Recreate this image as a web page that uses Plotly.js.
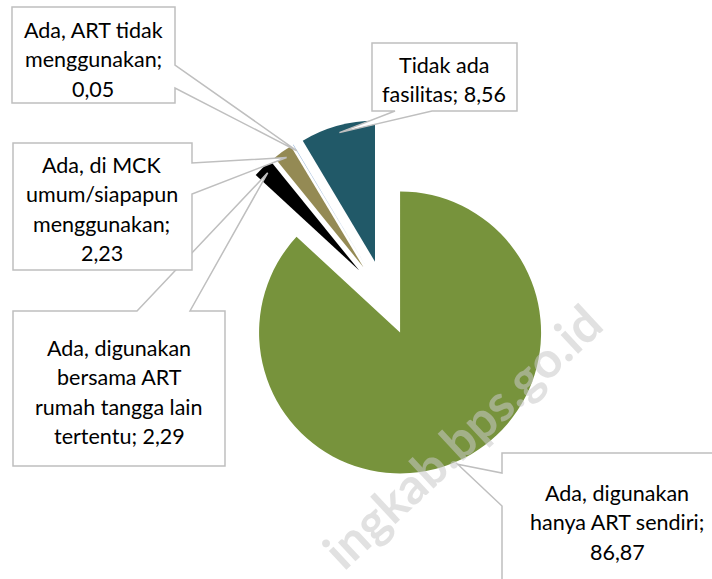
<!DOCTYPE html>
<html>
<head>
<meta charset="utf-8">
<script src="https://cdn.plot.ly/plotly-3.0.1.min.js"></script>
<style>html,body{margin:0;padding:0;background:#fff;}#chart{width:712px;height:579px;}</style>
</head>
<body>
<div id="chart"></div>
<script>
// ---- data ----
var categories = [
  "Ada, digunakan hanya ART sendiri",
  "Ada, digunakan bersama ART rumah tangga lain tertentu",
  "Ada, di MCK umum/siapapun menggunakan",
  "Ada, ART tidak menggunakan",
  "Tidak ada fasilitas"
];
var values = [86.87, 2.29, 2.23, 0.05, 8.56];
var calloutLabels = [
  "Ada, digunakan<br>hanya ART sendiri",
  "Ada, digunakan<br>bersama ART<br>rumah tangga lain<br>tertentu",
  "Ada, di MCK<br>umum/siapapun<br>menggunakan",
  "Ada, ART tidak<br>menggunakan",
  "Tidak ada<br>fasilitas"
];
var valueOnNewLine = [true, false, true, true, false];
var sliceColors = ["#77933C", "#000000", "#948A54", "#4F81BD", "#215968"];

// ---- layout constants ----
var W = 712, H = 579;
var CX = 385, CY = 298, R = 141, PULL = 0.2667;
var half = R * (1 + PULL);
var FONT = "Lato, 'Open Sans', sans-serif";
var FS = 21.5, PITCH = 29.3;

// callout boxes (pixels): rect, side of wedge, wedge base coordinates, text centre
var boxes = [
  {x0:502, y0:453, x1:730, y1:600, side:"left",  b:[473,506], tx:617, ty:493, f:1.02},
  {x0:13,  y0:311, x1:225, y1:466, side:"top",   b:[137,190], tx:119, ty:348, f:0.95},
  {x0:13,  y0:143, x1:192, y1:270, side:"right", b:[163,194], tx:102, ty:165, f:0.95},
  {x0:12,  y0:7,   x1:175, y1:103, side:"right", b:[65,88],   tx:93,  ty:30,  f:0.95},
  {x0:372, y0:43,  x1:517, y1:111, side:"bottom",b:[395,432], tx:444, ty:65,  f:0.95}
];

function px(x){ return x / W; }
function py(y){ return 1 - y / H; }
function fmt(v){ return v.toFixed(2).replace(".", ","); }

// slice mid-angles (clockwise from 12 o'clock), derived from values
var total = values.reduce(function(a,b){return a+b;}, 0);
var mids = [], acc = 0;
values.forEach(function(v){ mids.push((acc + v/2) / total * 2 * Math.PI); acc += v; });

var shapes = [], annotations = [];
boxes.forEach(function(bx, i){
  var a = mids[i];
  var dist = PULL * R + bx.f * R;
  var tX = CX + dist * Math.sin(a), tY = CY - dist * Math.cos(a);
  var pts;
  if (bx.side === "left") {
    pts = [[bx.x0,bx.y0],[bx.x1,bx.y0],[bx.x1,bx.y1],[bx.x0,bx.y1],[bx.x0,bx.b[1]],[tX,tY],[bx.x0,bx.b[0]]];
  } else if (bx.side === "right") {
    pts = [[bx.x0,bx.y0],[bx.x1,bx.y0],[bx.x1,bx.b[0]],[tX,tY],[bx.x1,bx.b[1]],[bx.x1,bx.y1],[bx.x0,bx.y1]];
  } else if (bx.side === "top") {
    pts = [[bx.x0,bx.y0],[bx.b[0],bx.y0],[tX,tY],[bx.b[1],bx.y0],[bx.x1,bx.y0],[bx.x1,bx.y1],[bx.x0,bx.y1]];
  } else {
    pts = [[bx.x0,bx.y0],[bx.x1,bx.y0],[bx.x1,bx.y1],[bx.b[1],bx.y1],[tX,tY],[bx.b[0],bx.y1],[bx.x0,bx.y1]];
  }
  var path = pts.map(function(p, k){ return (k===0?"M":"L") + px(p[0]).toFixed(5) + "," + py(p[1]).toFixed(5); }).join(" ") + " Z";
  shapes.push({type:"path", xref:"paper", yref:"paper", path:path,
    fillcolor:"#FFFFFF", line:{color:"#BFBFBF", width:1.5}, layer:"above"});

  var text = calloutLabels[i] + ";" + (valueOnNewLine[i] ? "<br>" : " ") + fmt(values[i]);
  text.split("<br>").forEach(function(line, k){
    annotations.push({xref:"paper", yref:"paper", x:px(bx.tx), y:py(bx.ty + k*PITCH),
      xanchor:"center", yanchor:"middle", showarrow:false, text:line,
      font:{family:FONT, size:FS, color:"#000000"}});
  });
});

// watermark
annotations.unshift({xref:"paper", yref:"paper", x:px(462), y:py(436), text:"ingkab.bps.go.id",
  showarrow:false, textangle:-43, xanchor:"center", yanchor:"middle",
  font:{family:"Lato, sans-serif", size:50, color:"rgba(200,200,200,0.55)", weight:"bold"}});

var trace = {
  type:"pie", values:values, labels:categories, sort:false, direction:"clockwise", rotation:0,
  marker:{colors:sliceColors, line:{width:0}}, pull:PULL, textinfo:"none", hoverinfo:"label+value",
  showlegend:false,
  domain:{x:[(CX-half)/W, (CX+half)/W], y:[1-(CY+half)/H, 1-(CY-half)/H]}
};

Plotly.newPlot("chart", [trace], {
  width:W, height:H, margin:{l:0,r:0,t:0,b:0},
  paper_bgcolor:"#FFFFFF", showlegend:false,
  shapes:shapes, annotations:annotations
}, {displayModeBar:false, staticPlot:true});
</script>
</body>
</html>
